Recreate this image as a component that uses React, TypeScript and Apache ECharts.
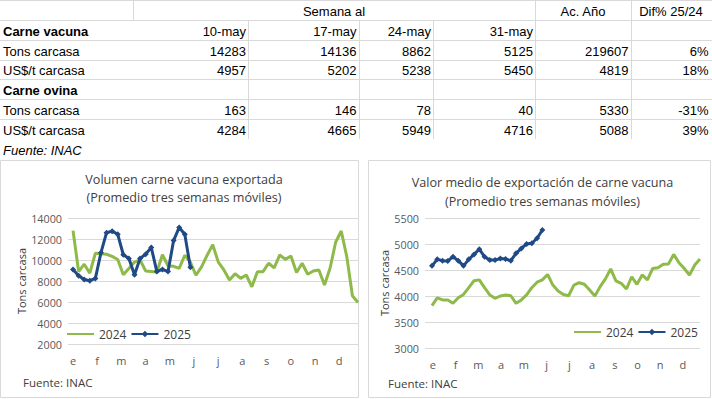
import React, { useEffect, useRef } from 'react';
import * as echarts from 'echarts';

// ---------- data ----------
const months = ['e', 'f', 'm', 'a', 'm', 'j', 'j', 'a', 's', 'o', 'n', 'd'];

const volumen2024 = [
  12800, 8900, 9600, 8750, 10650, 10600, 10550, 10350, 10050, 8600,
  9200, 9800, 10000, 8950, 8900, 8850, 10500, 9450, 9400, 9200,
  10450, 9800, 8550, 9350, 10450, 11450, 9800, 9050, 8100, 8700,
  8250, 8570, 7450, 8890, 8890, 9690, 9250, 10480, 10060, 10380,
  8800, 9690, 8640, 8950, 9050, 7620, 9210, 11690, 12760, 10300,
  6600, 5950,
];
const volumen2025 = [
  9100, 8500, 8150, 8030, 8250, 10700, 12600, 12750, 12450, 10500,
  10150, 8600, 10150, 10550, 11200, 8900, 9100, 8900, 11850, 13100,
  12450, 9300,
];
const valor2024 = [
  3815, 3965, 3925, 3925, 3860, 3965, 4030, 4160, 4295, 4310,
  4160, 4020, 3955, 4000, 4020, 4005, 3860, 3925, 4020, 4160,
  4265, 4310, 4415, 4210, 4095, 4030, 4005, 4210, 4255, 4225,
  4115, 4000, 4180, 4330, 4520, 4290, 4245, 4135, 4370, 4225,
  4405, 4310, 4530, 4545, 4610, 4615, 4800, 4640, 4530, 4405,
  4595, 4710,
];
const valor2025 = [
  4580, 4705, 4680, 4675, 4755, 4680, 4580, 4705, 4800, 4900,
  4755, 4690, 4690, 4720, 4710, 4680, 4820, 4915, 5000, 5015,
  5110, 5270,
];

const seriesNames = ['2024', '2025'];

// table
const tableHeaders = ['Semana al', 'Ac. Año', 'Dif% 25/24'];
const tableDates = ['10-may', '17-may', '24-may', '31-may'];
const rowLabels = ['Carne vacuna', 'Tons carcasa', 'US$/t carcasa', 'Carne ovina', 'Tons carcasa', 'US$/t carcasa'];
const vacunaTons = ['14283', '14136', '8862', '5125', '219607', '6%'];
const vacunaPrecio = ['4957', '5202', '5238', '5450', '4819', '18%'];
const ovinaTons = ['163', '146', '78', '40', '5330', '-31%'];
const ovinaPrecio = ['4284', '4665', '5949', '4716', '5088', '39%'];

const chartTitles = [
  'Volumen carne vacuna exportada',
  'Valor medio de exportación de carne vacuna',
];
const subTitle = '(Promedio tres semanas móviles)';
const yName = 'Tons carcasa';
const fuenteTabla = 'Fuente: INAC';
const fuenteChart = 'Fuente: INAC';

// ---------- styles ----------
const GREEN = '#8DBA48';
const BLUE = '#1F4A86';
const GRID = '#D9D9D9';
const CF = 'Open Sans';
const TF = 'Liberation Sans';
const LABEL = '#595959';
const TITLE = '#404040';

function buildGraphic() {
  const g: any[] = [];
  const line = (x1: number, y1: number, x2: number, y2: number) =>
    g.push({ type: 'line', shape: { x1, y1, x2, y2 }, style: { stroke: GRID, lineWidth: 1 }, silent: true });
  const text = (t: string, x: number, y: number, align: string, extra: any = {}) =>
    g.push({
      type: 'text', x, y, silent: true,
      style: { text: t, fontFamily: TF, fontSize: 13, fill: '#000', align, verticalAlign: 'middle', ...extra },
    });

  // table grid
  [0.5, 20.5, 40.5, 60.5, 79.5, 99.5, 119.5].forEach((y) => line(0, y, 712, y));
  line(133.5, 0, 133.5, 20);
  [248.5, 359.5, 433.5].forEach((x) => line(x, 20, x, 139));
  [535.5, 631.5].forEach((x) => line(x, 0, x, 139));

  // header
  text(tableHeaders[0], 334, 11, 'center');
  text(tableHeaders[1], 583, 11, 'center');
  text(tableHeaders[2], 671, 11, 'center');

  const colRight = [246, 356.5, 431, 533, 628.5, 708.5];
  const rowY = [31, 51, 70.5, 90.5, 110, 130];
  const rowVals: (string[] | null)[] = [tableDates, vacunaTons, vacunaPrecio, null, ovinaTons, ovinaPrecio];
  rowLabels.forEach((lab, r) => {
    const bold = r === 0 || r === 3;
    text(lab, 3, rowY[r], 'left', bold ? { fontWeight: 'bold' } : {});
    const vals = rowVals[r];
    if (vals) vals.forEach((v, c) => text(v, colRight[c], rowY[r], 'right'));
  });
  text(fuenteTabla, 3, 150, 'left', { fontStyle: 'italic' });

  // chart frames
  g.push({ type: 'rect', shape: { x: 0.5, y: 160.5, width: 358, height: 237 }, style: { fill: 'none', stroke: GRID, lineWidth: 1 }, silent: true });
  g.push({ type: 'rect', shape: { x: 368.5, y: 160.5, width: 342, height: 237 }, style: { fill: 'none', stroke: GRID, lineWidth: 1 }, silent: true });

  // titles
  const ct = (t: string, x: number, y: number, size: number, align = 'center') =>
    g.push({ type: 'text', x, y, silent: true, style: { text: t, fontFamily: CF, fontSize: size, fill: TITLE, align, verticalAlign: 'middle' } });
  ct(chartTitles[0], 184, 179, 12.6);
  ct(subTitle, 184, 197, 12.6);
  ct(chartTitles[1], 542.5, 182, 12.6);
  ct(subTitle, 542.5, 201, 12.6);
  ct(fuenteChart, 23, 382, 11.5, 'left');
  ct(fuenteChart, 388, 383, 11.5, 'left');
  return g;
}

function valueY(grid: number, min: number, max: number, interval: number, nameGap: number) {
  return {
    gridIndex: grid, type: 'value', min, max, interval,
    axisLine: { show: false }, axisTick: { show: false },
    splitLine: { lineStyle: { color: GRID, width: 1 } },
    axisLabel: { margin: 6, fontFamily: CF, fontSize: 10.8, color: LABEL, formatter: (v: number) => String(v) },
    name: yName, nameLocation: 'middle', nameRotate: 90, nameGap,
    nameTextStyle: { fontFamily: CF, fontSize: 11, color: TITLE },
  };
}
function monthX(grid: number) {
  return {
    gridIndex: grid, type: 'category', data: months, boundaryGap: true,
    axisLine: { show: false }, axisTick: { show: false }, splitLine: { show: false },
    axisLabel: { margin: 11, fontFamily: CF, fontSize: 11, color: LABEL, interval: 0 },
  };
}
function lineSeries(name: string, vals: number[], xi: number, yi: number) {
  const is25 = name === seriesNames[1];
  const color = is25 ? BLUE : GREEN;
  return {
    name, type: 'line', xAxisIndex: xi, yAxisIndex: yi,
    data: vals.map((v, i) => [i, v]),
    symbol: is25 ? 'diamond' : 'none', symbolSize: 6, showSymbol: is25,
    lineStyle: { width: 3, color }, itemStyle: { color },
    z: is25 ? 4 : 3,
  };
}
const legendBase = {
  orient: 'horizontal', itemWidth: 27, itemHeight: 8, itemGap: 4, padding: 0,
  data: [
    { name: seriesNames[0], itemStyle: { opacity: 0 } },
    { name: seriesNames[1] },
  ],
  textStyle: { fontFamily: CF, fontSize: 12, color: TITLE },
};

const option: any = {
  animation: false,
  backgroundColor: '#fff',
  graphic: buildGraphic(),
  grid: [
    { left: 68, top: 218, width: 290, height: 126 },
    { left: 60.9, top: 218, width: 290.4, height: 126 },
    { left: 425, top: 218, width: 275, height: 130 },
    { left: 421.6, top: 218, width: 272.7, height: 130 },
  ],
  xAxis: [
    { gridIndex: 0, type: 'value', min: -0.9, max: 51, show: false },
    monthX(1),
    { gridIndex: 2, type: 'value', min: -1.33, max: 51, show: false },
    monthX(3),
  ],
  yAxis: [
    valueY(0, 2000, 14000, 2000, 40),
    { gridIndex: 1, type: 'value', show: false },
    valueY(2, 3000, 5500, 500, 33),
    { gridIndex: 3, type: 'value', show: false },
  ],
  legend: [
    { ...legendBase, left: 66, top: 328 },
    { ...legendBase, left: 573, top: 326 },
  ],
  series: [
    lineSeries(seriesNames[0], volumen2024, 0, 0),
    lineSeries(seriesNames[1], volumen2025, 0, 0),
    lineSeries(seriesNames[0], valor2024, 2, 2),
    lineSeries(seriesNames[1], valor2025, 2, 2),
  ],
};

export default function App() {
  const ref = useRef<HTMLDivElement>(null);
  useEffect(() => {
    if (!ref.current) return;
    const chart = echarts.init(ref.current, null, { renderer: 'svg' });
    chart.setOption(option);
    return () => chart.dispose();
  }, []);
  return (
    <div
      ref={ref}
      style={{ position: 'absolute', left: 0, top: 0, width: 712, height: 399, background: '#fff' }}
    />
  );
}
